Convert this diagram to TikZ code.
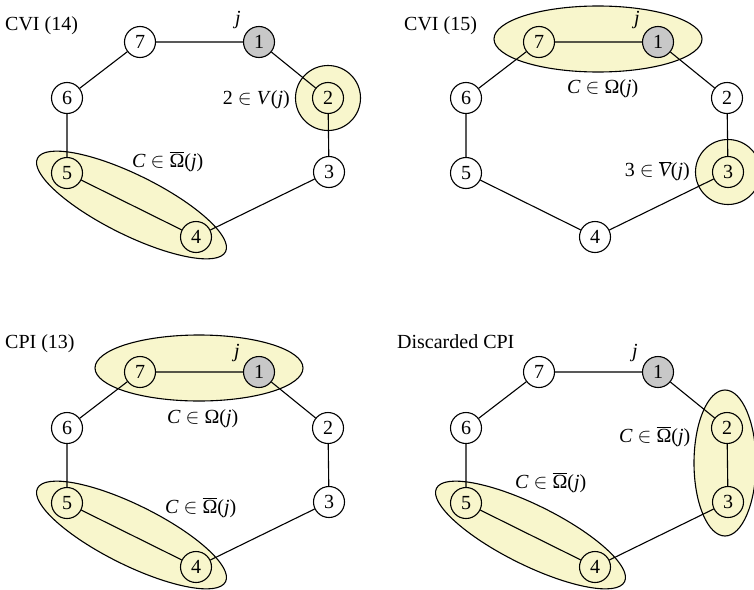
\documentclass[tikz,border=0pt]{standalone}
\usepackage{fontspec}
\setmainfont{Liberation Serif}
\definecolor{hl}{RGB}{248,246,204}
\definecolor{jgray}{RGB}{200,200,200}
\newcommand\OmBar{$\overline{\hbox{Ω}}$}
\newcommand\VBar{$\overline{\hbox{\itshape V}}$}
\newcommand\mkring[8]{%
  \node[#2] (#1-1) at (259,42) {1};
  \node[#3] (#1-2) at (328,98) {2};
  \node[#4] (#1-3) at (329,172) {3};
  \node[#5] (#1-4) at (196,237) {4};
  \node[#6] (#1-5) at (67,173) {5};
  \node[#7] (#1-6) at (67,98) {6};
  \node[#8] (#1-7) at (140,42) {7};
  \draw[edge] (#1-1) -- (#1-2) -- (#1-3) -- (#1-4) -- (#1-5) -- (#1-6) -- (#1-7) -- (#1-1);
}
\tikzset{
  txt/.style={inner sep=0pt, font=\fontsize{20}{24}\selectfont},
  vtx/.style={circle, draw, line width=1.1pt, minimum size=31pt, inner sep=0pt, fill=white, font=\fontsize{20}{24}\selectfont},
  vin/.style={vtx, fill=hl},
  vj/.style={vtx, fill=jgray},
  edge/.style={line width=1.1pt},
  hlshape/.style={draw, fill=hl, line width=1.1pt},
}
\begin{document}
\begin{tikzpicture}[x=1pt,y=-1pt]
\useasboundingbox (0,0) rectangle (754,589);
% Panel 1: CVI (14)
\begin{scope}
  \draw[hlshape] (328,98) circle (32.5pt);
  \begin{scope}[shift={(131.5,205)}, rotate=-26.4]
    \draw[hlshape] (0,0) ellipse [x radius=105pt, y radius=30pt];
  \end{scope}
  \mkring{a}{vj}{vin}{vtx}{vin}{vin}{vtx}{vtx}
\end{scope}
% Panel 2: CVI (15)
\begin{scope}[shift={(399,0)}]
  \draw[hlshape] (199,39) ellipse [x radius=104pt, y radius=33pt];
  \draw[hlshape] (329,172) circle (32.5pt);
  \mkring{b}{vj}{vtx}{vin}{vtx}{vtx}{vtx}{vin}
\end{scope}
% Panel 3: CPI (13)
\begin{scope}[shift={(0,330)}]
  \draw[hlshape] (199,38) ellipse [x radius=104pt, y radius=33pt];
  \begin{scope}[shift={(131.5,205)}, rotate=-26.4]
    \draw[hlshape] (0,0) ellipse [x radius=105pt, y radius=30pt];
  \end{scope}
  \mkring{c}{vj}{vtx}{vtx}{vin}{vin}{vtx}{vin}
\end{scope}
% Panel 4: Discarded CPI
\begin{scope}[shift={(399,330)}]
  \begin{scope}[shift={(131.5,205)}, rotate=-26.4]
    \draw[hlshape] (0,0) ellipse [x radius=105pt, y radius=30pt];
  \end{scope}
  \draw[hlshape] (326,133) ellipse [x radius=31pt, y radius=73pt];
  \mkring{d}{vj}{vin}{vin}{vin}{vin}{vtx}{vtx}
\end{scope}
% Labels
\node[txt, anchor=base west] (t1) at (5,30.5) {CVI (14)};
\node[txt] (j1) at (238,20) {\textit{j}};
\node[txt, anchor=base east] (l1a) at (290,104.5) {2 $\in$ \textit{V}(\textit{j})};
\node[txt, anchor=base west] (l1b) at (132,167) {\textit{C} $\in$ \OmBar(\textit{j})};

\node[txt, anchor=base west] (t2) at (404,30.5) {CVI (15)};
\node[txt] (j2) at (637,20) {\textit{j}};
\node[txt, anchor=base west] (l2a) at (567,93) {\textit{C} $\in$ Ω(\textit{j})};
\node[txt, anchor=base east] (l2b) at (690,176.7) {3 $\in$ \VBar(\textit{j})};

\node[txt, anchor=base west] (t3) at (5,348) {CPI (13)};
\node[txt] (j3) at (237,353.5) {\textit{j}};
\node[txt, anchor=base west] (l3a) at (167,423) {\textit{C} $\in$ Ω(\textit{j})};
\node[txt, anchor=base west] (l3b) at (165,513) {\textit{C} $\in$ \OmBar(\textit{j})};

\node[txt, anchor=base west] (t4) at (397,348) {Discarded CPI};
\node[txt] (j4) at (635,353.5) {\textit{j}};
\node[txt, anchor=base west] (l4a) at (619,442) {\textit{C} $\in$ \OmBar(\textit{j})};
\node[txt, anchor=base west] (l4b) at (515,488) {\textit{C} $\in$ \OmBar(\textit{j})};
\end{tikzpicture}
\end{document}
